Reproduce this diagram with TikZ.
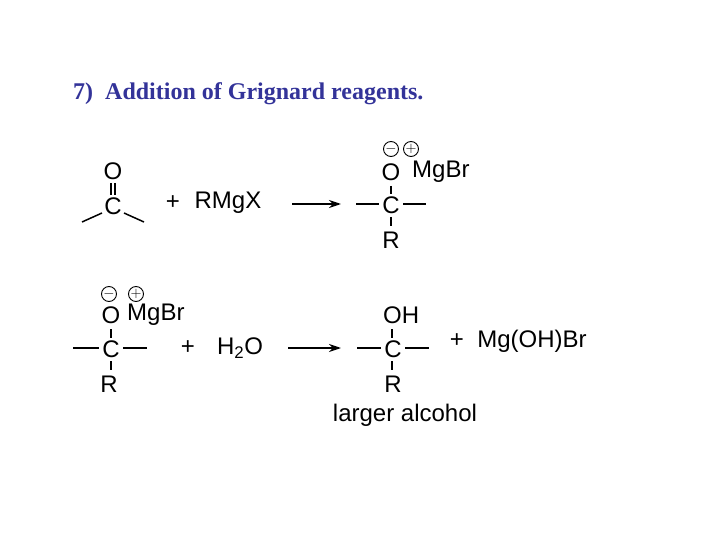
\documentclass[tikz,border=0pt]{standalone}
\usepackage{fontspec}
\setmainfont{Liberation Sans}
\newfontfamily\titlefont{Liberation Serif}
\usetikzlibrary{arrows.meta}
\definecolor{ttl}{HTML}{333399}
\begin{document}
\begin{tikzpicture}[x=1pt,y=-1pt,
  atm/.style={inner sep=0pt,font=\fontsize{24}{26}\selectfont},
  bd/.style={line width=1.5pt},
  chg/.style={circle,draw,line width=0.9pt,minimum size=15pt,inner sep=0pt,font=\fontsize{15}{15}\selectfont},
  rx/.style={line width=1.5pt,-{Stealth[length=12pt,width=8pt]}}]
\useasboundingbox (0,0) rectangle (720,540);
\node[anchor=base west,text=ttl,font=\titlefont\bfseries\fontsize{24}{26}\selectfont,inner sep=0pt] (title) at (73,100) {7)\ \ Addition of Grignard reagents.};
% top reactant
\node[atm] (o1) at (113,171) {O};
\node[atm] (c1) at (113,206) {C};
\draw[bd] (111,183) -- (111,195) (115,183) -- (115,195);
\coordinate (l1) at (82,222); \coordinate (r1) at (144,222);
\draw[bd] (102,213) -- (l1); \draw[bd] (124,213) -- (r1);
\node[atm] (p1) at (173,203) {+};
\node[atm] (rmgx) at (228,203) {RMgX};
\coordinate (a1s) at (292,204); \coordinate (a1e) at (341,204);
\draw[rx] (a1s) -- (a1e);
% top product
\node[chg] (m1) at (391,149) {$-$};
\node[chg] (q1) at (411,149) {$+$};
\node[atm] (o2) at (391,172) {O};
\node[atm,anchor=west] (mg1) at (412,172) {MgBr};
\node[atm] (c2) at (391,205) {C};
\node[atm] (r2) at (391,240) {R};
\draw[bd] (391,186) -- (391,194) (391,217) -- (391,226);
\draw[bd] (356,204) -- (379,204) (403,204) -- (426,204);
% bottom reactant
\node[chg] (m2) at (109,294) {$-$};
\node[chg] (q2) at (136,294) {$+$};
\node[atm] (o3) at (111,315) {O};
\node[atm,anchor=west] (mg2) at (127,315) {MgBr};
\node[atm] (c3) at (111,349) {C};
\node[atm] (r3) at (109,384) {R};
\draw[bd] (111,329) -- (111,338) (111,361) -- (111,370);
\draw[bd] (73,348) -- (99,348) (123,348) -- (147,348);
\node[atm] (p2) at (188,348) {+};
\node[atm] (h2o) at (240,348) {H\textsubscript{2}O};
\coordinate (a2s) at (288,348); \coordinate (a2e) at (341,348);
\draw[rx] (a2s) -- (a2e);
% bottom product
\node[atm,anchor=west] (oh) at (383,315) {OH};
\node[atm] (c4) at (393,349) {C};
\node[atm] (r4) at (393,384) {R};
\draw[bd] (392,329) -- (392,338) (392,361) -- (392,370);
\draw[bd] (357,348) -- (381,348) (405,348) -- (429,348);
\node[atm] (p3) at (457,341) {+};
\node[atm] (mgohbr) at (532,341) {Mg(OH)Br};
\node[atm] (lab) at (405,415) {larger alcohol};
\end{tikzpicture}
\end{document}
